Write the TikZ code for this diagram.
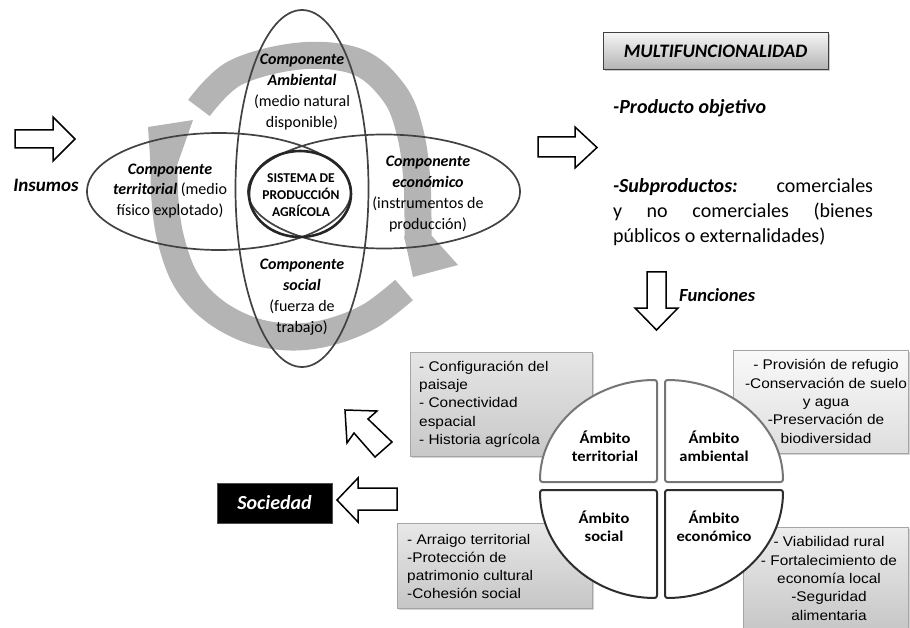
\documentclass[tikz,border=0pt]{standalone}
\usepackage{fontspec}
\setmainfont{Carlito}
\newfontfamily\boxfont{Liberation Sans}[FakeStretch=1.1]
\newfontfamily\ambfont{Carlito}[FakeStretch=1.1]
\usetikzlibrary{shadows}
\definecolor{bandgray}{RGB}{180,180,180}
\definecolor{ellline}{RGB}{66,66,66}
\definecolor{boxline}{RGB}{165,165,165}
\begin{document}
\begin{tikzpicture}[x=1pt,y=-1pt,
  barrow/.style={draw=black,line width=1.5pt,fill=white,line join=miter},
  ell/.style={draw=ellline,line width=1.7pt},
  band/.style={draw=bandgray,line width=27pt,line cap=butt,line join=round},
  lbl/.style={inner sep=0pt,align=center,font=\fontsize{16}{20.8}\selectfont},
  txtbox/.style={draw=boxline,line width=0.8pt,inner sep=0pt,
     drop shadow={shadow xshift=1.5pt,shadow yshift=-1.5pt,opacity=0.35}},
  boxtxt/.style={inner sep=0pt,font=\boxfont\fontsize{14}{18.3}\selectfont},
  ambtxt/.style={inner sep=0pt,align=center,font=\ambfont\bfseries\fontsize{15}{18}\selectfont},
  quadlight/.style={draw={rgb,255:red,118;green,118;blue,118},line width=2pt,fill=white,rounded corners=2.5pt},
  quaddark/.style={draw={rgb,255:red,45;green,45;blue,45},line width=2pt,fill=white,rounded corners=2.5pt}]
\useasboundingbox (0,0) rectangle (910,628);

% ---- gray circular arrows ----
\draw[band] plot[smooth,tension=0.6] coordinates {(199,108) (235,73) (300,56) (358,62) (394,93) (410,132) (417,182) (418,240)};
\fill[bandgray] (404,236) -- (432,236) -- (458,265) -- (413,277) -- cycle;
\draw[band] plot[smooth,tension=0.6] coordinates {(404,290) (370,316) (330,332) (290,337) (250,330) (213,310) (186,280) (171,240) (165,200) (164,160)};
\fill[bandgray] (150.5,164) -- (148,127) -- (193,120) -- (177.5,164) -- cycle;

% ---- ellipses ----
\draw[ell] (302,188.5) ellipse[x radius=66.5, y radius=178.5];
\draw[ell] (219,191.5) ellipse[x radius=132, y radius=58.5];
\draw[ell] (384,191.5) ellipse[x radius=136, y radius=57];
\draw[draw=black!85,line width=2.6pt] (300,194) ellipse[x radius=51, y radius=43];

% ---- ellipse texts ----
\node[lbl] (amb) at (302,92) {\bfseries\itshape Componente\\\bfseries\itshape Ambiental\\(medio natural\\disponible)};
\node[lbl] (terr) at (170,191) {\bfseries\itshape Componente\\\textbf{\textit{territorial}} (medio\\físico explotado)};
\node[lbl] (econ) at (428,194) {\bfseries\itshape Componente\\\bfseries\itshape económico\\(instrumentos de\\producción)};
\node[lbl] (soc) at (302,297) {\bfseries\itshape Componente\\\bfseries\itshape social\\(fuerza de\\trabajo)};
\node[inner sep=0pt,align=center,font=\bfseries\fontsize{13.5}{17}\selectfont] (sist) at (301,195) {SISTEMA DE\\PRODUCCIÓN\\AGRÍCOLA};

% ---- Insumos ----
\draw[barrow] (15,130) -- (53,130) -- (53,117) -- (75,139) -- (53,161) -- (53,148) -- (15,148) -- cycle;
\node[inner sep=0pt,font=\bfseries\itshape\fontsize{19}{22}\selectfont] (ins) at (46,185) {Insumos};

% ---- right side ----
\draw[barrow] (538,137) -- (575,137) -- (575,127) -- (597,147.5) -- (575,168) -- (575,157) -- (538,157) -- cycle;
\node[draw=black!75,line width=1pt,top color=white!96!black,bottom color=black!30,
      minimum width=225pt,minimum height=37pt,inner sep=0pt,
      drop shadow={shadow xshift=1.5pt,shadow yshift=-1.5pt,opacity=0.4},
      font=\bfseries\itshape\fontsize{19}{22}\selectfont] (multi) at (715.5,51.5) {MULTIFUNCIONALIDAD};
\node[anchor=west,inner sep=0pt,font=\bfseries\itshape\fontsize{20}{24}\selectfont] (prod) at (613,108) {-Producto objetivo};
\node[inner sep=0pt,text width=260pt,align=justify,font=\fontsize{20}{25}\selectfont] (subp) at (743,212)
  {\textbf{\textit{-Subproductos:}} comerciales\linebreak y no comerciales (bienes\linebreak públicos o externalidades)};
\draw[barrow] (647,272) -- (666,272) -- (666,308) -- (678,308) -- (656.5,330) -- (635,308) -- (647,308) -- cycle;
\node[anchor=west,inner sep=0pt,font=\bfseries\itshape\fontsize{18.5}{22}\selectfont] (func) at (679,295) {Funciones};

% ---- text boxes ----
\node[txtbox,top color={rgb,255:red,230;green,230;blue,230},bottom color={rgb,255:red,200;green,200;blue,200},
      minimum width=182pt,minimum height=104pt] (tlbox) at (501,404) {};
\node[txtbox,top color={rgb,255:red,249;green,249;blue,249},bottom color={rgb,255:red,222;green,222;blue,222},
      minimum width=175pt,minimum height=103pt] (trbox) at (820.5,401.5) {};
\node[txtbox,top color={rgb,255:red,232;green,232;blue,232},bottom color={rgb,255:red,198;green,198;blue,198},
      minimum width=195pt,minimum height=85pt] (blbox) at (494.5,565.5) {};
\node[txtbox,top color={rgb,255:red,236;green,236;blue,236},bottom color={rgb,255:red,196;green,196;blue,196},
      minimum width=165pt,minimum height=110pt] (brbox) at (825.5,582) {};

\node[boxtxt,anchor=west,align=left] (tltxt) at (419,404) {- Configuración del\\paisaje\\- Conectividad\\espacial\\- Historia agrícola};
\node[boxtxt,align=center] (trtxt) at (826,401.5) {- Provisión de refugio\\-Conservación de suelo\\y agua\\-Preservación de\\biodiversidad};
\node[boxtxt,anchor=west,align=left] (bltxt) at (407,566.5) {- Arraigo territorial\\-Protección de\\patrimonio cultural\\-Cohesión social};
\node[boxtxt,align=center] (brtxt) at (829,578.5) {- Viabilidad rural\\- Fortalecimiento de\\economía local\\-Seguridad\\alimentaria};

% ---- quadrants ----
\draw[quadlight] (657,482) -- (657,380) arc[start angle=-90,end angle=-180,x radius=117,y radius=102] -- cycle;
\draw[quadlight] (665,482) -- (665,380) arc[start angle=-90,end angle=0,x radius=118,y radius=102] -- cycle;
\draw[quaddark] (657,490) -- (657,598) arc[start angle=90,end angle=180,x radius=117,y radius=108] -- cycle;
\draw[quaddark] (665,490) -- (665,598) arc[start angle=90,end angle=0,x radius=118,y radius=108] -- cycle;
\node[ambtxt] (qtl) at (605,446) {Ámbito\\territorial};
\node[ambtxt] (qtr) at (714,446) {Ámbito\\ambiental};
\node[ambtxt] (qbl) at (604,526) {Ámbito\\social};
\node[ambtxt] (qbr) at (714,526) {Ámbito\\económico};

% ---- society ----
\draw[barrow] (377,411) -- (368,419) -- (392,442) -- (375,457) -- (354,433) -- (347,443) -- (345,410) -- cycle;
\draw[barrow] (397,488) -- (358,488) -- (358,478) -- (337,500) -- (358,522) -- (358,510) -- (397,510) -- cycle;
\node[fill=black,draw=black!70,minimum width=115pt,minimum height=40pt,inner sep=0pt,text=white,
      font=\bfseries\itshape\fontsize{20}{24}\selectfont] (soci) at (274.5,503) {Sociedad};
\end{tikzpicture}
\end{document}
